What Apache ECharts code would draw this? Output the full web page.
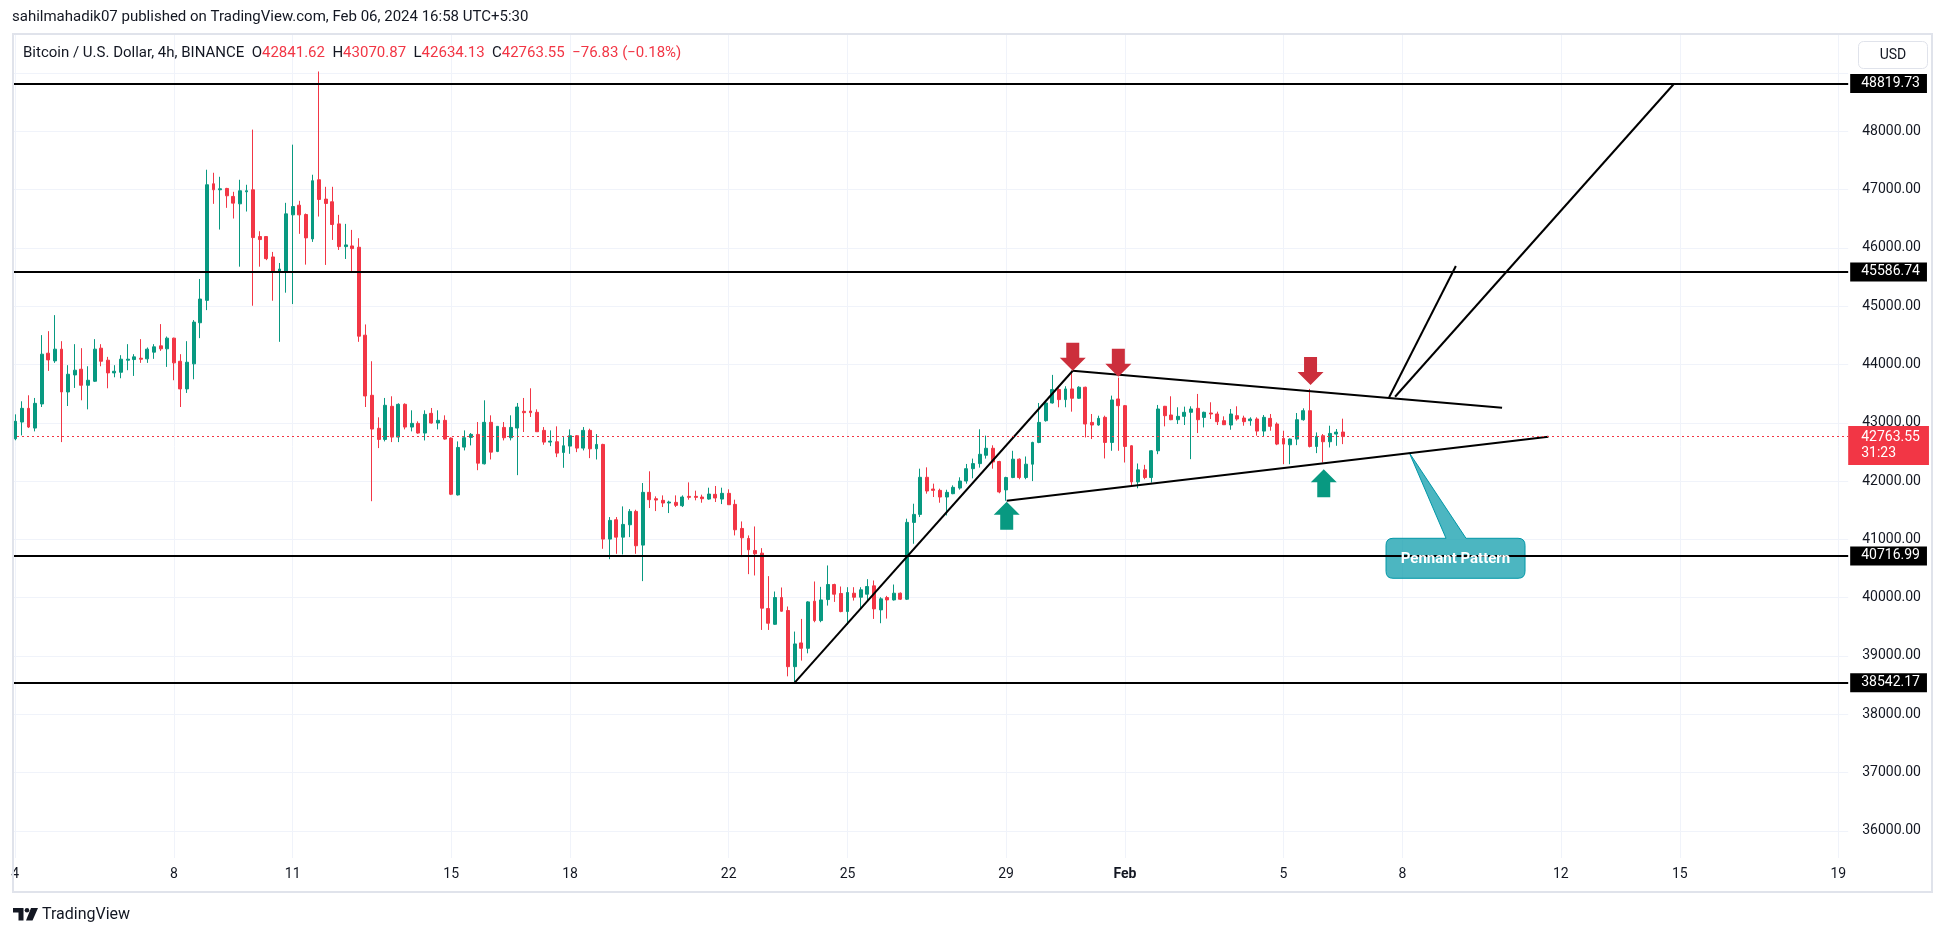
<!DOCTYPE html>
<html><head><meta charset="utf-8">
<script src="https://cdn.jsdelivr.net/npm/echarts@6/dist/echarts.min.js"></script>
<style>html,body{margin:0;padding:0;background:#fff;}#c{width:1946px;height:937px;}</style>
</head><body><div id="c"></div>
<script>
// ---- data (BTC/USD 4h, BINANCE) ----
const opens = [42727,43013,43248,42910,43323,44194,44062,44263,43529,43821,
43919,43644,43713,44280,44074,43856,43867,44074,44085,44108,
44097,44212,44320,44269,44452,44056,43581,44011,44716,45100,
47100,46997,47020,46883,46756,46962,46997,46195,46195,45845,
45587,45598,46567,46733,46573,46154,47169,46837,46791,46412,
46022,46034,46011,44503,43472,42905,42715,43283,42755,43317,
42927,42990,42824,43162,42996,43042,42738,41763,42583,42750,
42801,42297,43008,42509,42921,42744,42910,43197,43202,43180,
42870,42669,42675,42491,42600,42778,42566,42870,42554,42629,
41005,41337,41039,41251,41480,40902,41807,41698,41670,41624,
41635,41578,41738,41738,41727,41692,41773,41692,41790,41601,
41188,41016,40810,40764,39814,39544,40003,39780,38817,39224,
39132,39940,39607,39968,40226,40072,39762,40077,40008,40060,
40203,39791,40003,39962,40077,39974,41292,41429,42065,41864,
41841,41727,41784,41881,42001,42213,42300,42443,42563,42336,
41849,42061,42376,42061,42290,42663,43036,43340,43570,43398,
43581,43421,43610,43007,42962,43094,42663,43409,43294,42606,
41986,42193,42061,42520,43283,43134,43053,43111,43180,43248,
43093,43168,43151,43036,42962,43122,43082,43036,43065,42858,
43076,42979,42732,42623,42721,43053,43208,42594,42778,42675,
42807,42841.62];
const closes = [43025,43248,42927,43334,44177,44079,44263,43529,43833,43902,
43644,43730,44263,44056,43856,43884,44091,44091,44131,44091,
44263,44303,44269,44452,44028,43581,44039,44727,45123,47083,
46997,47014,46894,46768,46980,46980,46177,46143,45816,45587,
45638,46584,46710,46567,46172,47152,46831,46762,46401,46022,
46051,45988,44486,43460,42893,42715,43300,42755,43317,42927,
42990,42824,43145,42996,43042,42721,41775,42577,42744,42801,
42308,43008,42497,42939,42744,42921,43271,43174,43174,42847,
42669,42686,42480,42606,42778,42566,42870,42554,42629,41005,
41326,41039,41257,41480,40891,41807,41681,41675,41624,41641,
41584,41727,41721,41721,41698,41778,41710,41790,41595,41165,
41028,40822,40753,39820,39562,40003,39768,38817,39207,39132,
39928,39607,39962,40226,40060,39762,40089,40008,40135,40192,
39808,39980,39962,40077,39974,41292,41429,42065,41830,41841,
41727,41807,41893,42001,42213,42300,42460,42563,42328,41814,
42061,42376,42061,42290,42663,43007,43340,43570,43398,43581,
43421,43610,42979,42962,43076,42663,43392,43294,42594,41986,
42193,42061,42520,43237,43122,43053,43111,43180,43237,43053,
43180,43151,43019,42967,43151,43065,43019,43065,42858,43094,
42939,42635,42635,42721,43053,43208,42594,42767,42675,42818,
42840.38,42763.55];
const highs = [43145,43369,43472,43426,44504,44572,44847,44400,43988,44349,
44280,43970,44435,44349,44131,43988,44160,44349,44177,44435,
44292,44349,44693,44480,44460,44177,44400,44762,45467,47341,
47289,47220,47030,46962,47169,47083,48029,46286,46195,45931,
45741,46773,47771,46808,46590,47255,49026,47048,47048,46567,
46412,46309,46166,44687,44056,43094,43426,43455,43334,43334,
43214,43025,43214,43254,43214,43128,42750,42681,42870,42824,
43013,43386,43128,42939,43013,43128,43340,43426,43592,43231,
42927,42870,42939,42755,42887,42790,42927,42899,42807,42640,
41383,41383,41566,41520,41509,41967,42168,41738,41755,41664,
41755,41755,41978,41836,41767,41887,41916,41887,41859,41681,
41308,41068,41222,40850,40370,40106,40175,39849,39419,39636,
39940,40278,40186,40553,40240,40192,40180,40180,40180,40318,
40295,40008,40031,40226,40090,41355,41612,42213,42236,41956,
41870,41852,41927,42065,42294,42386,42889,42780,42614,42348,
42075,42520,42390,42422,42675,43340,43363,43822,43593,43627,
43893,43627,43620,43151,43122,43122,43466,43775,43306,42615,
42302,42279,42530,43306,43290,43455,43266,43277,43283,43495,
43191,43352,43191,43111,43237,43283,43122,43094,43094,43134,
43151,43007,42864,42732,43168,43248,43581,42835,42807,42950,
42893,43070.87];
const lows = [42700,42784,42910,42853,43271,43890,44028,42669,43288,43598,
43386,43231,43700,43970,43592,43781,43764,43902,43804,44028,
44028,44097,44234,43959,43730,43271,43512,43747,44452,44933,
46756,46315,46687,46504,45678,46624,45008,45678,45790,45094,
44389,45232,45037,46241,45713,46103,46538,45708,46137,45965,
45810,45587,44389,43271,41655,42566,42681,42669,42669,42887,
42853,42813,42697,42985,42887,42710,41760,41752,42526,42612,
42187,42285,42371,42497,42698,42698,42102,42842,43100,42847,
42623,42600,42411,42228,42468,42497,42526,42394,42371,40839,
40661,40753,40741,41039,40753,40284,41538,41486,41555,41452,
41555,41555,41681,41670,41629,41681,41641,41606,41595,41068,
40696,40404,40381,39447,39447,39533,39760,38651,38542,38921,
39046,39579,39579,39865,39928,39750,39533,39951,39808,39951,
39636,39562,39642,39951,39960,39960,40925,41383,41784,41727,
41629,41411,41775,41853,41956,42048,42231,42386,42213,41791,
41664,42050,42032,42032,42000,42650,43020,43330,43266,43266,
43191,43410,42749,42721,42950,42388,42520,42520,42319,41917,
41877,42032,41975,42462,42939,43045,42979,42962,42376,42824,
42921,43065,42962,42962,42881,43036,42950,42950,42778,42767,
42864,42617,42290,42290,42617,43036,42577,42480,42319,42577,
42606,42634.13];

const levels = [48819.73, 45586.74, 40716.99, 38542.17];
const lastPrice = 42763.55;
const countdown = '31:23';
const gridPrices = [36000,37000,38000,39000,40000,41000,42000,43000,44000,45000,46000,47000,48000,49000];
const labelledPrices = [36000,37000,38000,39000,40000,41000,42000,43000,44000,45000,46000,47000,48000];
const tickLabels = ['4','8','11','15','18','22','25','29','Feb','5','8','12','15','19'];
const tickDays = [0,4,7,11,14,18,21,25,28,32,35,39,42,46];
const barsPerDay = 6;
const totalSlots = 278;
const trendLines = [
  [[118, 38542.17], [160.1, 43893]],
  [[160.1, 43893], [225.1, 43259]],
  [[150.1, 41664], [232.1, 42761]],
  [[208, 43437], [218.1, 45689]],
  [[208.9, 43447], [251.1, 48811]]
];
const downArrows = [[160.1, 43893], [167, 43790], [196.1, 43648]];
const upArrows = [[150.1, 41647], [198.1, 42202]];
const calloutTip = [211.05, 42487];
const calloutBox = [218.05, 40676];
const calloutText = 'Pennant Pattern';
const symbolName = 'Bitcoin / U.S. Dollar, 4h, BINANCE';
const publishLine = 'sahilmahadik07 published on TradingView.com, Feb 06, 2024 16:58 UTC+5:30';

// ---- chart ----
const FONT = 'Roboto, "Noto Sans", sans-serif';
const barPx = 6.605;
const yMin = 35535, yMax = 49652;
const chart = echarts.init(document.getElementById('c'), null, {renderer: 'canvas', width: 1946, height: 937});

const candleData = opens.map((o, i) => {
  const c = closes[i];
  return [o, c, Math.min(lows[i], o, c), Math.max(highs[i], o, c)];
});
const tickIndex = tickDays.map(d => d * barsPerDay);
const labelAt = {};
tickIndex.forEach((ix, k) => { labelAt[ix] = tickLabels[k]; });
const categories = Array.from({length: totalSlots}, (_, i) => 'b' + i);

const last = opens.length - 1;
const chg = closes[last] - closes[last - 1];
const pct = chg / closes[last - 1] * 100;
const sgn = chg < 0 ? '\u2212' : '+';
const f2 = v => Number(v).toFixed(2);
const hdr2 = '{n|' + symbolName + '}  {n|O}{r|' + f2(opens[last]) + '}  {n|H}{r|' + f2(highs[last]) +
  '}  {n|L}{r|' + f2(lows[last]) + '}  {n|C}{r|' + f2(closes[last]) + '}  {r|' + sgn + f2(Math.abs(chg)) +
  ' (' + sgn + f2(Math.abs(pct)) + '%)}';

const series = [];
// grid lines + price scale labels
series.push({
  type: 'line', xAxisIndex: 1, yAxisIndex: 0, data: [], silent: true,
  markLine: {
    silent: true, symbol: ['none', 'none'], z: 1, animation: false,
    lineStyle: {color: '#f0f3fa', width: 1, type: 'solid'},
    label: {show: false},
    emphasis: {disabled: true},
    data: gridPrices.map(v => ({
      yAxis: v,
      label: {show: labelledPrices.indexOf(v) >= 0, position: 'end', distance: 14,
        formatter: p => f2(p.value), color: '#131722', fontSize: 14, fontFamily: FONT}
    })).concat(tickIndex.map(ix => ({xAxis: ix})))
  }
});
// candles
series.push({
  type: 'candlestick', xAxisIndex: 0, yAxisIndex: 0, data: candleData, barWidth: 3.4, z: 2, silent: true,
  itemStyle: {color: '#089981', color0: '#F23645', borderColor: '#089981', borderColor0: '#F23645',
    borderColorDoji: '#089981', borderWidth: 1}
});
// callout box (under the horizontal lines)
series.push({
  type: 'custom', xAxisIndex: 1, yAxisIndex: 0, z: 3, silent: true,
  data: [[calloutTip[0], calloutTip[1], calloutBox[0], calloutBox[1]]],
  encode: {x: [0, 2], y: [1, 3]},
  renderItem: (params, api) => {
    const t = api.coord([api.value(0), api.value(1)]);
    const b = api.coord([api.value(2), api.value(3)]);
    const w = 139, h = 40, r = 7;
    const x0 = b[0] - w / 2, y0 = b[1] - h / 2, x1 = x0 + w, y1 = y0 + h;
    const bl = x0 + 60, br = x0 + 80;
    const d = `M${x0 + r},${y0} L${bl},${y0} L${t[0]},${t[1]} L${br},${y0} L${x1 - r},${y0} Q${x1},${y0} ${x1},${y0 + r} L${x1},${y1 - r} Q${x1},${y1} ${x1 - r},${y1} L${x0 + r},${y1} Q${x0},${y1} ${x0},${y1 - r} L${x0},${y0 + r} Q${x0},${y0} ${x0 + r},${y0} Z`;
    return {type: 'path', shape: {pathData: d}, style: {fill: 'rgba(0,151,167,0.7)', stroke: '#0097A7', lineWidth: 1}};
  }
});
// horizontal levels with price tags
series.push({
  type: 'line', xAxisIndex: 1, yAxisIndex: 0, data: [], silent: true,
  markLine: {
    silent: true, symbol: ['none', 'none'], z: 6, animation: false,
    emphasis: {disabled: true},
    lineStyle: {color: '#000000', width: 2, type: 'solid'},
    label: {show: true, position: 'end', distance: 2, formatter: p => f2(p.value),
      color: '#ffffff', backgroundColor: '#000000', padding: [2, 7, 1, 11], lineHeight: 16,
      fontSize: 14, fontFamily: FONT},
    data: levels.map(v => ({yAxis: v}))
  }
});
// trend lines
trendLines.forEach(seg => {
  series.push({
    type: 'line', xAxisIndex: 1, yAxisIndex: 0, data: seg, showSymbol: false, silent: true, z: 7,
    lineStyle: {color: '#000000', width: 2}, emphasis: {disabled: true}
  });
});
// arrows
series.push({
  type: 'scatter', xAxisIndex: 1, yAxisIndex: 0, z: 8, silent: true, data: downArrows,
  symbol: 'path://M6,0L18,0L18,15L24,15L12,28L0,15L6,15Z', symbolSize: [26, 28], symbolOffset: [0, -14],
  symbolKeepAspect: false, itemStyle: {color: '#CC2F3C', opacity: 1}
});
series.push({
  type: 'scatter', xAxisIndex: 1, yAxisIndex: 0, z: 8, silent: true, data: upArrows,
  symbol: 'path://M12,0L24,13L18,13L18,28L6,28L6,13L0,13Z', symbolSize: [26, 28], symbolOffset: [0, 14],
  symbolKeepAspect: false, itemStyle: {color: '#089981', opacity: 1}
});
// callout text
series.push({
  type: 'custom', xAxisIndex: 1, yAxisIndex: 0, z: 9, silent: true,
  data: [[calloutBox[0], calloutBox[1]]],
  encode: {x: 0, y: 1},
  renderItem: (params, api) => {
    const b = api.coord([api.value(0), api.value(1)]);
    return {type: 'text', x: b[0], y: b[1] + 1, style: {text: calloutText, fill: '#ffffff',
      font: 'bold 15px ' + FONT, align: 'center', verticalAlign: 'middle'}};
  }
});
// last price dotted line + tag
series.push({
  type: 'line', xAxisIndex: 1, yAxisIndex: 0, data: [], silent: true,
  markLine: {
    silent: true, symbol: ['none', 'none'], z: 10, animation: false,
    emphasis: {disabled: true},
    lineStyle: {color: '#F23645', width: 1, type: [2, 3]},
    label: {show: true, position: 'end', distance: 0, offset: [0, 9],
      formatter: p => f2(p.value) + '\n' + countdown,
      color: '#ffffff', backgroundColor: '#F23645', padding: [3, 9, 4, 13], lineHeight: 16,
      fontSize: 14, fontFamily: FONT},
    data: [{yAxis: lastPrice}]
  }
});

const option = {
  animation: false,
  backgroundColor: '#ffffff',
  grid: {left: 12, top: 35, width: totalSlots * barPx, height: 823, containLabel: false},
  xAxis: [
    {type: 'category', data: categories, boundaryGap: true,
      axisLine: {show: false}, axisTick: {show: false}, splitLine: {show: false},
      axisLabel: {interval: 0, margin: 9, color: '#131722', fontSize: 14, fontFamily: FONT,
        formatter: (v, i) => { const t = labelAt[i]; if (t === undefined) return ''; return t === 'Feb' ? '{b|Feb}' : t; },
        rich: {b: {fontWeight: 'bold', fontSize: 14, color: '#131722', fontFamily: FONT}}}},
    {type: 'value', min: -0.5, max: totalSlots - 0.5, show: false}
  ],
  yAxis: {type: 'value', min: yMin, max: yMax, show: false},
  series: series,
  graphic: [
    {type: 'rect', silent: true, z: 50, shape: {x: 13, y: 34, width: 1919, height: 858},
      style: {fill: 'none', stroke: '#e0e3eb', lineWidth: 2}},
    {type: 'text', silent: true, z: 50, x: 12, y: 17,
      style: {text: publishLine, font: '15px ' + FONT, fill: '#131722', verticalAlign: 'middle'}},
    {type: 'text', silent: true, z: 50, x: 23, y: 53,
      style: {text: hdr2, font: '15px ' + FONT, fill: '#131722', verticalAlign: 'middle',
        rich: {n: {fill: '#131722', font: '15px ' + FONT}, r: {fill: '#F23645', font: '15px ' + FONT}}}},
    {type: 'rect', silent: true, z: 50, shape: {x: 1858.5, y: 41.5, width: 69, height: 27, r: 5},
      style: {fill: '#ffffff', stroke: '#e0e3eb', lineWidth: 1}},
    {type: 'text', silent: true, z: 51, x: 1893, y: 55,
      style: {text: 'USD', font: '14px ' + FONT, fill: '#131722', align: 'center', verticalAlign: 'middle'}},
    {type: 'polygon', silent: true, z: 50, shape: {points: [[13, 908], [23.5, 908], [23.5, 920.5], [18.5, 920.5], [18.5, 912.5], [13, 912.5]]},
      style: {fill: '#131722'}},
    {type: 'circle', silent: true, z: 50, shape: {cx: 27, cy: 910.3, r: 2.3}, style: {fill: '#131722'}},
    {type: 'polygon', silent: true, z: 50, shape: {points: [[31, 908], [38, 908], [32.5, 920.5], [26, 920.5]]},
      style: {fill: '#131722'}},
    {type: 'text', silent: true, z: 50, x: 42, y: 915,
      style: {text: 'TradingView', font: '16px ' + FONT, fill: '#131722', verticalAlign: 'middle'}}
  ]
};
chart.setOption(option);
</script>
</body></html>
